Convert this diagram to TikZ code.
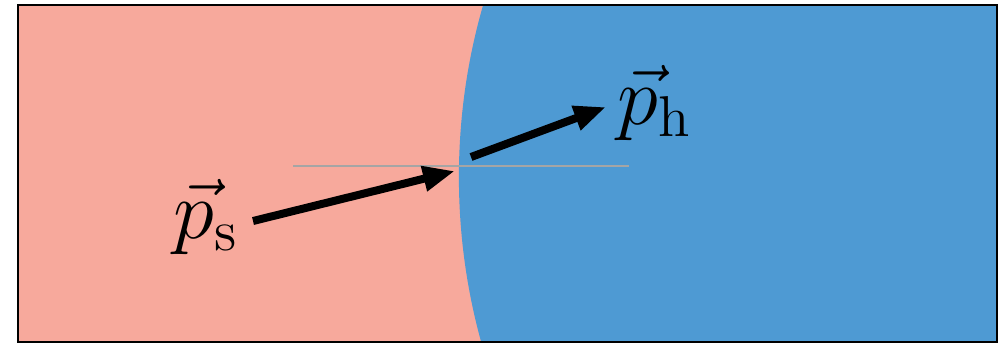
\documentclass[tikz,border=0pt]{standalone}
\usepackage{amsmath}
\usetikzlibrary{arrows.meta}
\definecolor{salmon}{RGB}{247,169,156}
\definecolor{skyblue}{RGB}{78,154,211}
\definecolor{midgray}{RGB}{165,165,165}
\tikzset{
  vecarrow/.style={line width=2pt,-{Triangle[length=8pt,width=6pt]}},
  lbl/.style={inner sep=0pt,anchor=base west,font=\huge}
}
\begin{document}
\begin{tikzpicture}[x=0.25pt,y=-0.25pt]
\useasboundingbox (0,0) rectangle (1002,344);
\begin{scope}
  \clip (18,5) rectangle (997,342);
  \fill[salmon] (18,5) rectangle (997,342);
  \fill[skyblue] (1077.5,177) circle[radius=154.65pt];
\end{scope}
\coordinate (gl) at (293,166);
\coordinate (gr) at (629,166);
\draw[midgray,line width=0.5pt] (gl) -- (gr);
\coordinate (s0) at (253,221);
\coordinate (s1) at (455,171);
\coordinate (h0) at (471,157);
\coordinate (h1) at (606,107);
\draw[vecarrow] (s0) -- (s1);
\draw[vecarrow] (h0) -- (h1);
\node[lbl] (ps) at (173,238) {$\vec{p}_{\mathrm{s}}$};
\node[lbl] (ph) at (617,124) {$\vec{p}_{\mathrm{h}}$};
\draw[black,line width=0.6pt] (18,5) rectangle (997,342);
\end{tikzpicture}
\end{document}
